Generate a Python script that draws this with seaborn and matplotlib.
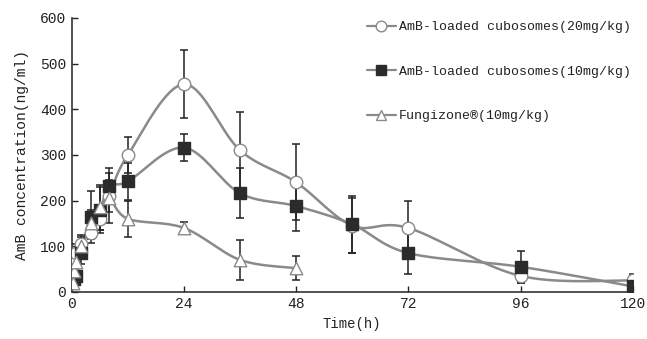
import numpy as np
import pandas as pd
import matplotlib
matplotlib.use("Agg")
import matplotlib.pyplot as plt
import seaborn as sns
from matplotlib.lines import Line2D

# time points (h)
t_20 = [0.25, 1, 2, 4, 6, 8, 12, 24, 36, 48, 60, 72, 96, 120]
c_20 = [75, 85, 105, 130, 160, 210, 300, 455, 310, 240, 145, 140, 35, 25]
e_20 = [15, 20, 15, 15, 25, 35, 40, 75, 83, 83, 60, 58, 15, 15]

t_10 = [0.5, 1, 2, 4, 6, 8, 12, 24, 36, 48, 60, 72, 96, 120]
c_10 = [28, 35, 85, 165, 180, 232, 242, 316, 216, 188, 148, 85, 55, 12]
e_10 = [15, 20, 25, 57, 50, 40, 40, 30, 55, 55, 62, 45, 35, 10]

t_fz = [0.25, 0.5, 1, 2, 4, 6, 8, 12, 24, 36, 48]
c_fz = [20, 45, 65, 100, 150, 185, 205, 160, 140, 70, 52]
e_fz = [10, 15, 20, 25, 30, 50, 55, 40, 12, 43, 27]

labels = ["AmB-loaded cubosomes(20mg/kg)",
          "AmB-loaded cubosomes(10mg/kg)",
          "Fungizone\u00ae(10mg/kg)"]


def smooth(x, y, n=20):
    # catmull-rom style smoothing like the spreadsheet "smoothed line"
    x = np.asarray(x, float)
    y = np.asarray(y, float)
    px = np.concatenate([[x[0]], x, [x[-1]]])
    py = np.concatenate([[y[0]], y, [y[-1]]])
    xs, ys = [], []
    for i in range(1, len(px) - 2):
        s = np.linspace(0, 1, n)
        for arr, out in ((px, xs), (py, ys)):
            p0, p1, p2, p3 = arr[i - 1], arr[i], arr[i + 1], arr[i + 2]
            m1 = (p2 - p0) / 6.0
            m2 = (p3 - p1) / 6.0
            out.extend((1 - s) ** 3 * p1 + 3 * (1 - s) ** 2 * s * (p1 + m1)
                       + 3 * (1 - s) * s ** 2 * (p2 - m2) + s ** 3 * p2)
    return np.array(xs), np.array(ys)


sns.set_style("ticks")
plt.rcParams['font.family'] = ['Liberation Mono', 'DejaVu Sans']

fig = plt.figure(figsize=(6.47, 3.39), dpi=100)
ax = fig.add_axes([0.111, 0.139, 0.867, 0.808])

line_col = "#8a8a8a"
err_col = "#222222"
series = [
    (t_20, c_20, e_20, "o", "white", line_col, 9),
    (t_10, c_10, e_10, "s", "#2b2b2b", "#2b2b2b", 8.5),
    (t_fz, c_fz, e_fz, "^", "white", line_col, 9),
]

handles = []
for (t, c, e, mk, fc, ec, ms), lab in zip(series, labels):
    sx, sy = smooth(t, c)
    sns.lineplot(x=sx, y=sy, ax=ax, color=line_col, lw=1.8, sort=False,
                 estimator=None, zorder=2)
    ax.errorbar(t, c, yerr=e, fmt="none", ecolor=err_col, elinewidth=1.1,
                capsize=3, capthick=1.1, zorder=3)
    df = pd.DataFrame({"t": t, "c": c})
    sns.scatterplot(data=df, x="t", y="c", ax=ax, marker=mk, s=ms ** 2,
                    color=fc, edgecolor=ec, linewidth=1.0, zorder=4)
    handles.append(Line2D([], [], color=line_col, lw=1.6, marker=mk,
                          markersize=ms * 0.85, markerfacecolor=fc,
                          markeredgecolor=ec, label=lab))

ax.set_xlim(0, 120)
ax.set_ylim(0, 600)
ax.set_xticks([0, 24, 48, 72, 96, 120])
ax.set_yticks(range(0, 601, 100))
ax.tick_params(direction="in", length=4, width=1, colors="#222222",
               labelsize=10.5, pad=4)
for sp in ["left", "bottom"]:
    ax.spines[sp].set_color("#333333")
    ax.spines[sp].set_linewidth(1.2)
sns.despine(ax=ax)

ax.set_xlabel("Time(h)", fontsize=10, color="#222222", labelpad=4)
ax.set_ylabel("AmB concentration(ng/ml)", fontsize=10.5, color="#222222",
              labelpad=8)

leg = ax.legend(handles=handles, loc="upper left",
                bbox_to_anchor=(0.505, 1.032), frameon=False, fontsize=9.5,
                labelspacing=2.45, handlelength=2.2, handletextpad=0.2)
for txt in leg.get_texts():
    txt.set_color("#222222")

fig.savefig("out.png", dpi=100)
